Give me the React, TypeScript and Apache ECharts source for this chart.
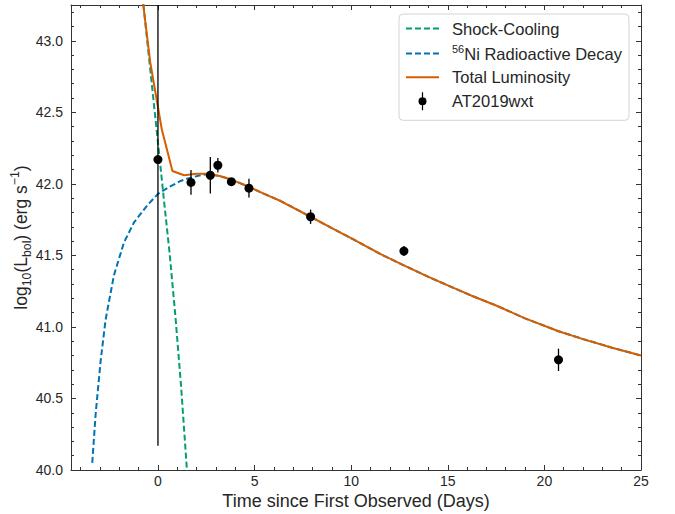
import { useEffect, useRef } from "react";
import * as echarts from "echarts";

// Shock-cooling component (log10 L, erg/s) vs. days since first observation
const shockDays = [-0.9, -0.5, 0, 0.3, 0.6, 0.9, 1.2, 1.5, 1.7];
const shockLogL = [43.44, 42.93, 42.29, 41.9, 41.52, 41.08, 40.58, 40.0, 39.6];

// 56Ni radioactive decay component
const niDays = [-3.4, -3.22, -2.96, -2.71, -2.28, -1.76, -1.24, -0.55, 0, 0.6, 1.17, 1.6, 2.2, 2.6, 3.2, 3.8, 4.7, 5.5, 6.35, 7.9, 9.0, 10.14, 11.5, 12.73, 14.0, 15.0, 16.2, 17.5, 19.0, 20.73, 22.0, 23.5, 25.0];
const niLogL = [40.05, 40.4, 40.77, 41.05, 41.36, 41.59, 41.73, 41.85, 41.93, 41.98, 42.02, 42.04, 42.06, 42.068, 42.054, 42.03, 41.98, 41.93, 41.88, 41.77, 41.69, 41.61, 41.51, 41.43, 41.35, 41.29, 41.22, 41.15, 41.06, 40.97, 40.915, 40.855, 40.8];

// Total model luminosity
const totalDays = [-1.0, -0.4, 0.2, 0.75, 1.35, 2.0, 2.6, 3.2, 3.8, 4.7, 5.5, 6.35, 7.9, 9.0, 10.14, 11.5, 12.73, 14.0, 15.0, 16.2, 17.5, 19.0, 20.73, 22.0, 23.5, 25.0];
const totalLogL = [43.52, 42.85, 42.38, 42.09, 42.06, 42.07, 42.07, 42.055, 42.03, 41.98, 41.93, 41.88, 41.77, 41.69, 41.61, 41.51, 41.43, 41.35, 41.29, 41.22, 41.15, 41.06, 40.97, 40.915, 40.855, 40.8];

// AT2019wxt bolometric measurements with 1-sigma errors
const obsDays = [0, 1.71, 2.71, 3.1, 3.8, 4.71, 7.9, 12.73, 20.73];
const obsLogL = [42.17, 42.01, 42.06, 42.13, 42.015, 41.97, 41.77, 41.53, 40.77];
const obsErr = [2.0, 0.087, 0.127, 0.05, 0.02, 0.066, 0.05, 0.035, 0.078];

// Tick positions
const xMajor = [0, 5, 10, 15, 20, 25];
const xMinor = [-4, -3, -2, -1, 1, 2, 3, 4, 6, 7, 8, 9, 11, 12, 13, 14, 16, 17, 18, 19, 21, 22, 23, 24];
const yMajor = [40, 40.5, 41, 41.5, 42, 42.5, 43];
const yMinor = [40.1, 40.2, 40.3, 40.4, 40.6, 40.7, 40.8, 40.9, 41.1, 41.2, 41.3, 41.4, 41.6, 41.7, 41.8, 41.9, 42.1, 42.2, 42.3, 42.4, 42.6, 42.7, 42.8, 42.9, 43.1, 43.2];

const FONT = "'Liberation Sans', Arial, sans-serif";
const INK = "#262626";
const FRAME = "#333333";
const GREEN = "#029E73";
const BLUE = "#0173B2";
const ORANGE = "#D55E00";

const X_MIN = -4.5;
const X_MAX = 25;
const Y_MIN = 40;
const Y_MAX = 43.25;

function pairs(xs: number[], ys: number[]) {
  return xs.map((x, i) => [x, ys[i]]);
}

function xAxis(position: "top" | "bottom", ticks: number[], len: number, line: boolean, labels: boolean, extra: object = {}) {
  return {
    type: "value",
    position,
    min: X_MIN,
    max: X_MAX,
    axisLine: { show: line, onZero: false, lineStyle: { color: FRAME, width: 1 } },
    axisTick: { show: true, inside: true, length: len, customValues: ticks, lineStyle: { color: FRAME, width: 1 } },
    axisLabel: {
      show: labels,
      customValues: ticks,
      margin: 4,
      color: INK,
      fontSize: 14,
      fontFamily: FONT,
      formatter: (v: number) => String(v),
    },
    splitLine: { show: false },
    ...extra,
  };
}

function yAxis(position: "left" | "right", ticks: number[], len: number, line: boolean, labels: boolean, extra: object = {}) {
  return {
    type: "value",
    position,
    min: Y_MIN,
    max: Y_MAX,
    axisLine: { show: line, onZero: false, lineStyle: { color: FRAME, width: 1 } },
    axisTick: { show: true, inside: true, length: len, customValues: ticks, lineStyle: { color: FRAME, width: 1 } },
    axisLabel: {
      show: labels,
      customValues: ticks,
      margin: 8,
      color: INK,
      fontSize: 14,
      fontFamily: FONT,
      formatter: (v: number) => v.toFixed(1),
    },
    splitLine: { show: false },
    ...extra,
  };
}

const legendNames = ["Shock-Cooling", "56Ni Radioactive Decay", "Total Luminosity", "AT2019wxt"];

// marker with a vertical error bar, used as the legend icon of the data points
const errorbarIcon =
  "path://M4.4 0 L5.6 0 L5.6 18 L4.4 18 Z M1 9 A4 4 0 1 1 9 9 A4 4 0 1 1 1 9 Z";

// line-only legend icons (no marker drawn on the line)
const noMarker = { opacity: 0, color: "rgba(0,0,0,0)" };

export default function App() {
  const ref = useRef<HTMLDivElement>(null);

  useEffect(() => {
    if (!ref.current) return;
    const chart = echarts.init(ref.current, undefined, { renderer: "svg" });

    const option = {
      animation: false,
      backgroundColor: "#ffffff",
      grid: { left: 71, right: 34, top: 5, bottom: 44, containLabel: false, outerBoundsMode: "none" },
      legend: {
        orient: "vertical",
        left: 399,
        top: 14,
        padding: [6, 7, 10, 6],
        itemGap: 6.6,
        itemWidth: 33,
        itemHeight: 18,
        symbolKeepAspect: true,
        backgroundColor: "#ffffff",
        borderColor: "#d4d4d4",
        borderWidth: 1,
        borderRadius: 4,
        data: [
          { name: legendNames[0], itemStyle: noMarker },
          { name: legendNames[1], itemStyle: noMarker },
          { name: legendNames[2], itemStyle: noMarker },
          { name: legendNames[3], icon: errorbarIcon },
        ],
        formatter: (name: string) => {
          if (name === legendNames[1]) return "{gap| }{sup|56}{t|Ni Radioactive Decay}";
          return "{gap| }{t|" + name + "}";
        },
        textStyle: {
          color: INK,
          fontFamily: FONT,
          fontSize: 16.5,
          rich: {
            gap: { width: 8, fontSize: 16.5, lineHeight: 20 },
            t: { color: INK, fontFamily: FONT, fontSize: 16.5, lineHeight: 20 },
            sup: { color: INK, fontFamily: FONT, fontSize: 11, lineHeight: 10.7, verticalAlign: "top" },
          },
        },
      },
      xAxis: [
        xAxis("bottom", xMajor, 5, true, true, {
          name: "Time since First Observed (Days)",
          nameLocation: "middle",
          nameGap: 22,
          nameMoveOverlap: false,
          nameTextStyle: { color: INK, fontFamily: FONT, fontSize: 18 },
        }),
        xAxis("bottom", xMinor, 3, false, false),
        xAxis("top", xMajor, 5, true, false),
        xAxis("top", xMinor, 3, false, false),
      ],
      yAxis: [
        yAxis("left", yMajor, 5, true, true, {
          name: "{t|log}{sub|10}{t|(L}{sub|bol}{t|) (erg s}{sup|\u22121}{t|)}",
          nameLocation: "middle",
          nameGap: 38,
          nameMoveOverlap: false,
          nameTextStyle: {
            color: INK,
            fontFamily: FONT,
            fontSize: 17.5,
            rich: {
              t: { color: INK, fontFamily: FONT, fontSize: 17.5, lineHeight: 24 },
              sub: { color: INK, fontFamily: FONT, fontSize: 12.3, lineHeight: 15, verticalAlign: "bottom" },
              sup: { color: INK, fontFamily: FONT, fontSize: 12.3, lineHeight: 13, verticalAlign: "top" },
            },
          },
        }),
        yAxis("left", yMinor, 3, false, false),
        yAxis("right", yMajor, 5, true, false),
        yAxis("right", yMinor, 3, false, false),
      ],
      series: [
        {
          name: legendNames[0],
          type: "line",
          data: pairs(shockDays, shockLogL),
          symbol: "none",
          clip: true,
          lineStyle: { color: GREEN, width: 2, type: [6, 3] },
          itemStyle: { color: GREEN },
          z: 2,
        },
        {
          name: legendNames[1],
          type: "line",
          data: pairs(niDays, niLogL),
          symbol: "none",
          clip: true,
          lineStyle: { color: BLUE, width: 2, type: [6, 3] },
          itemStyle: { color: BLUE },
          z: 2,
        },
        {
          name: legendNames[2],
          type: "line",
          data: pairs(totalDays, totalLogL),
          symbol: "none",
          clip: true,
          lineStyle: { color: ORANGE, width: 2 },
          itemStyle: { color: ORANGE },
          z: 3,
        },
        {
          name: "errors",
          type: "custom",
          clip: true,
          silent: true,
          z: 4,
          data: obsDays.map((d, i) => [d, obsLogL[i] - obsErr[i], obsLogL[i] + obsErr[i]]),
          encode: { x: 0, y: [1, 2] },
          renderItem: (_params: any, api: any) => {
            const lo = api.coord([api.value(0), api.value(1)]);
            const hi = api.coord([api.value(0), api.value(2)]);
            return {
              type: "line",
              shape: { x1: lo[0], y1: lo[1], x2: hi[0], y2: hi[1] },
              style: { stroke: "#000000", lineWidth: 1.3 },
            };
          },
        },
        {
          name: legendNames[3],
          type: "scatter",
          data: pairs(obsDays, obsLogL),
          symbol: "circle",
          symbolSize: 9,
          itemStyle: { color: "#000000", opacity: 1 },
          z: 5,
        },
      ],
    };

    chart.setOption(option as any);
    return () => chart.dispose();
  }, []);

  return (
    <div
      ref={ref}
      style={{ position: "fixed", left: 0, top: 0, width: 675, height: 514, background: "#ffffff" }}
    />
  );
}
